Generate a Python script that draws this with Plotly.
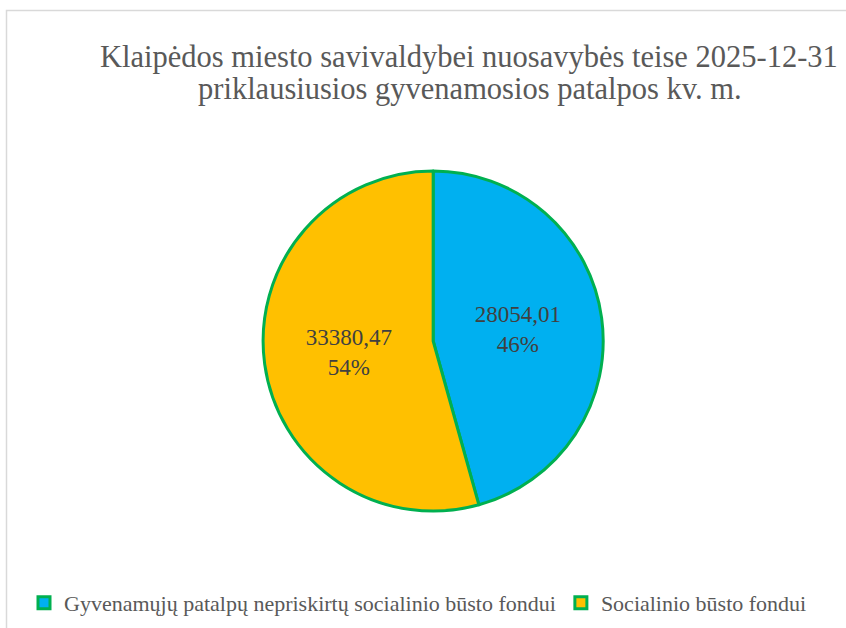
import plotly.graph_objects as go

title_lines = ["Klaipėdos miesto savivaldybei nuosavybės teise 2025-12-31",
               "priklausiusios gyvenamosios patalpos kv. m."]
categories = ["Gyvenamųjų patalpų nepriskirtų socialinio būsto fondui",
              "Socialinio būsto fondui"]
values = [28054.01, 33380.47]
colors = ["#00B0F0", "#FFC000"]

SERIF = "'Liberation Serif', 'Times New Roman', 'DejaVu Serif', serif"

fig = go.Figure()
fig.add_trace(go.Pie(
    labels=categories,
    values=values,
    sort=False,
    direction="clockwise",
    rotation=0,
    marker=dict(colors=colors, line=dict(color="#00B050", width=3)),
    texttemplate="%{value:.2f}<br>%{percent:.0%}",
    textposition="inside",
    insidetextorientation="horizontal",
    textfont=dict(family=SERIF, size=23, color="#404040"),
    domain=dict(x=[0.311, 0.713], y=[0.186, 0.728]),
    hoverinfo="label+value+percent",
))

fig.add_annotation(text=title_lines[0], x=469/846, y=1-57/628, xref="paper", yref="paper",
                   showarrow=False, xanchor="center", yanchor="middle",
                   font=dict(family=SERIF, size=30.5, color="#595959"))
fig.add_annotation(text=title_lines[1], x=470/846, y=1-89/628, xref="paper", yref="paper",
                   showarrow=False, xanchor="center", yanchor="middle",
                   font=dict(family=SERIF, size=30.5, color="#595959"))

fig.add_shape(type="rect", xref="paper", yref="paper", x0=6.5/846, x1=1.05, y0=-0.05, y1=1-10.5/628,
              line=dict(color="#D9D9D9", width=1.5), fillcolor="rgba(0,0,0,0)", layer="below")

fig.update_layout(
    width=846, height=628,
    margin=dict(l=0, r=0, t=0, b=0),
    paper_bgcolor="white", plot_bgcolor="white",
    separators=", ",
    showlegend=True,
    legend=dict(orientation="h", x=24/846, xanchor="left", y=1-603/628, yanchor="middle",
                font=dict(family=SERIF, size=22, color="#595959"),
                traceorder="normal", itemclick=False, itemwidth=30),
)

fig.write_html("out.html")
